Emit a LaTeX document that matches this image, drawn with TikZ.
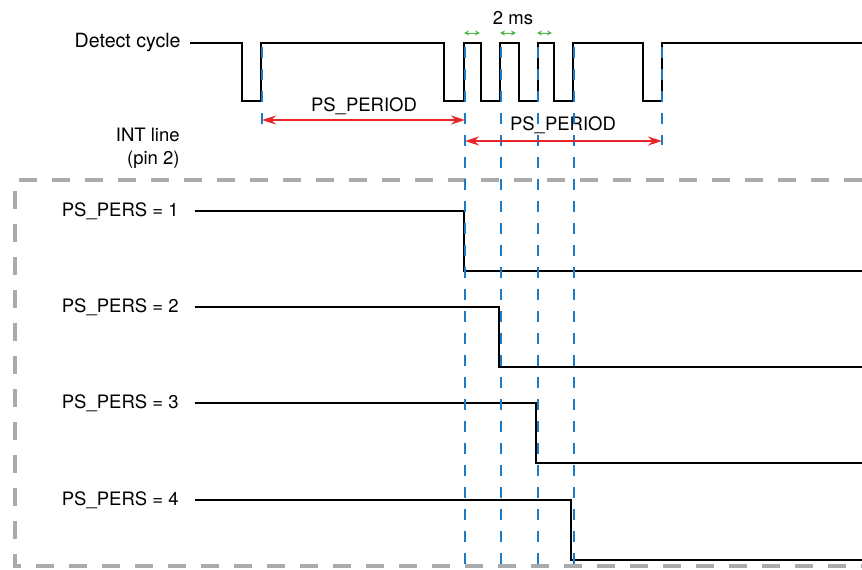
\documentclass[tikz,border=0pt]{standalone}
\usepackage{fontspec}
\setmainfont{TeX Gyre Heros}
\usetikzlibrary{arrows.meta}

\definecolor{markblue}{HTML}{1B7BC6}
\definecolor{periodred}{HTML}{E8262A}
\definecolor{msgreen}{HTML}{4DB84A}
\definecolor{boxgray}{HTML}{ABABAB}

\begin{document}
\begin{tikzpicture}[x=0.5pt,y=-0.5pt,
    lbl/.style={font=\fontsize{9.25}{11.5}\selectfont,inner sep=0pt},
    wave/.style={line width=1.3pt,line join=miter},
    marker/.style={markblue,line width=1.25pt,dash pattern=on 5.5pt off 5.5pt},
    period/.style={periodred,line width=0.75pt,{Stealth[length=7pt,width=4.5pt]}-{Stealth[length=7pt,width=4.5pt]}},
    tick/.style={msgreen,line width=0.5pt,{Stealth[length=2.5pt,width=2.5pt]}-{Stealth[length=2.5pt,width=2.5pt]}}]
    \useasboundingbox (0,0) rectangle (862,569);
    % labels
    \node[lbl,anchor=east,font=\fontsize{9.8}{11.5}\selectfont] (detect) at (181,42) {Detect cycle};
    \node[lbl,align=right,anchor=east] (intline) at (180,148.5) {INT line\\(pin 2)};
    \node[lbl] (period1) at (364,106) {PS\_PERIOD};
    \node[lbl] (period2) at (563,125) {PS\_PERIOD};
    \node[lbl] (twoms) at (513,18) {2 ms};
    % detect cycle
    \draw[wave] (190,43) -- (242,43) -- (242,101) -- (261,101) -- (261,43)
        -- (444,43) -- (444,101) -- (464,101) -- (464,43)
        -- (481,43) -- (481,101) -- (500,101) -- (500,43)
        -- (519,43) -- (519,101) -- (538,101) -- (538,43)
        -- (554,43) -- (554,101) -- (573,101) -- (573,43)
        -- (643,43) -- (643,101) -- (662,101) -- (662,43) -- (862,43);
    % INT line box
    \draw[boxgray,line width=1.75pt,dash pattern=on 9pt off 7.5pt]
        (862,180) -- (15,180) -- (15,566) -- (862,566);
    % INT line for each persistence value
    \foreach \n/\y/\t in {1/211/464,2/307/499,3/403/536,4/500/571}{
        \node[lbl,anchor=east] (pers\n) at (179,\y) {PS\_PERS = \n};
        \draw[wave] (195,\y) -- (\t,\y) -- (\t,\y+60) -- (862,\y+60);
    }
    % time markers
    \coordinate (m0) at (262,47);
    \coordinate (m1) at (465,47);
    \coordinate (m2) at (501,47);
    \coordinate (m3) at (538,47);
    \coordinate (m4) at (574,47);
    \coordinate (m5) at (662,47);
    \draw[marker] (m0) -- ++(0,81) coordinate (m0e);
    \draw[marker] (m5) -- ++(0,98) coordinate (m5e);
    \foreach \m in {m1,m2,m3,m4}
        \draw[marker] (\m) -- ++(0,522);
    % periods
    \draw[period] (262,120) -- (465,120);
    \draw[period] (465,141) -- (662,141);
    \draw[tick] (464,33) -- (480,33);
    \draw[tick] (500,33) -- (516,33);
    \draw[tick] (537,33) -- (552,33);
\end{tikzpicture}
\end{document}
